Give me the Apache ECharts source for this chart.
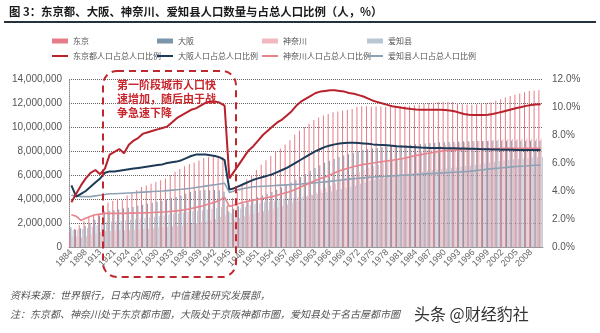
<!DOCTYPE html>
<html><head><meta charset="utf-8">
<script src="https://cdn.jsdelivr.net/npm/echarts@6/dist/echarts.min.js"></script>
<style>html,body{margin:0;padding:0;background:#fff}#c{width:600px;height:333px}</style>
</head><body><div id="c"></div>
<script>
var years = ['1884','1888','1893','1898','1903','1908','1913','1918','1920',
'1921','1922','1923','1924','1925','1926','1927','1928','1929','1930',
'1931','1932','1933','1934','1935','1936','1937','1938','1939','1940',
'1941','1942','1943','1944','1945','1946','1947','1948','1949','1950',
'1951','1952','1953','1954','1955','1956','1957','1958','1959','1960',
'1961','1962','1963','1964','1965','1966','1967','1968','1969','1970',
'1971','1972','1973','1974','1975','1976','1977','1978','1979','1980',
'1981','1982','1983','1984','1985','1986','1987','1988','1989','1990',
'1991','1992','1993','1994','1995','1996','1997','1998','1999','2000',
'2001','2002','2003','2004','2005','2006','2007','2008','2009','2010'];

// population, millions of people
var tokyoPop = [1.20,1.50,1.82,2.15,2.48,2.73,2.78,3.12,3.70,3.86,
4.02,3.89,4.30,4.54,4.73,5.00,5.13,5.27,5.42,5.57,
5.71,6.00,6.28,6.51,6.73,6.92,7.03,7.21,7.41,7.51,
7.58,7.61,7.51,3.53,4.09,4.61,5.12,5.64,5.99,6.42,
6.86,7.22,7.59,7.95,8.21,8.54,8.90,9.35,9.71,10.00,
10.28,10.58,10.79,10.96,11.09,11.22,11.29,11.38,11.41,11.51,
11.67,11.73,11.72,11.69,11.71,11.71,11.69,11.67,11.71,11.73,
11.75,11.77,11.81,11.86,11.93,11.99,12.03,12.08,12.09,12.10,
12.09,11.99,11.90,11.87,11.86,11.89,11.93,11.97,12.06,12.20,
12.32,12.45,12.58,12.69,12.79,12.90,12.99,13.03,13.07];
var osakaPop = [1.65,1.43,1.57,1.75,2.01,2.28,2.62,2.95,3.02,3.06,
3.13,3.20,3.27,3.34,3.43,3.52,3.60,3.68,3.77,3.86,
3.98,4.08,4.17,4.30,4.45,4.59,4.69,4.71,4.75,4.73,
4.74,4.73,4.61,2.96,3.18,3.40,3.60,3.80,3.99,4.14,
4.29,4.44,4.59,4.78,4.96,5.14,5.37,5.60,5.84,6.08,
6.33,6.59,6.80,7.03,7.18,7.34,7.50,7.62,7.73,7.83,
7.99,8.07,8.15,8.20,8.26,8.31,8.36,8.41,8.43,8.47,
8.50,8.53,8.57,8.59,8.63,8.66,8.68,8.72,8.73,8.76,
8.78,8.79,8.81,8.82,8.83,8.83,8.84,8.84,8.85,8.86,
8.86,8.86,8.87,8.86,8.86,8.86,8.86,8.86,8.86];
var kanagawaPop = [0.86,0.87,0.79,0.90,1.03,1.14,1.25,1.34,1.34,1.36,
1.38,1.39,1.43,1.44,1.47,1.51,1.53,1.56,1.60,1.64,
1.67,1.72,1.76,1.82,1.88,1.94,2.00,2.07,2.16,2.24,
2.33,2.48,2.64,2.09,2.27,2.42,2.56,2.68,2.79,2.87,
2.98,3.08,3.18,3.30,3.43,3.55,3.67,3.84,4.02,4.20,
4.38,4.57,4.76,4.92,5.10,5.31,5.52,5.69,5.86,6.04,
6.26,6.44,6.58,6.71,6.84,6.97,7.08,7.20,7.32,7.43,
7.57,7.72,7.87,7.99,8.11,8.22,8.33,8.42,8.50,8.56,
8.62,8.67,8.72,8.75,8.79,8.82,8.86,8.88,8.91,8.95,
8.98,9.00,9.01,9.01,9.02,9.02,9.03,9.02,9.03];
var aichiPop = [1.39,1.45,1.49,1.58,1.68,1.81,1.98,2.09,2.13,2.15,
2.19,2.23,2.27,2.32,2.37,2.42,2.47,2.51,2.57,2.62,
2.68,2.74,2.79,2.86,2.92,2.97,3.02,3.07,3.13,3.18,
3.24,3.33,3.39,2.81,3.03,3.20,3.34,3.47,3.58,3.65,
3.72,3.79,3.86,3.93,3.99,4.04,4.09,4.15,4.20,4.27,
4.34,4.42,4.49,4.57,4.64,4.74,4.83,4.93,5.03,5.13,
5.28,5.39,5.50,5.60,5.68,5.76,5.83,5.90,5.97,6.04,
6.10,6.17,6.23,6.29,6.35,6.41,6.46,6.51,6.55,6.60,
6.65,6.69,6.74,6.78,6.85,6.92,6.98,7.04,7.11,7.17,
7.22,7.27,7.31,7.35,7.38,7.41,7.46,7.48,7.51];

// share of national population, %
var tokyoShare = [3.2,3.8,4.4,4.9,5.3,5.5,5.2,5.6,6.6,6.8,
7.0,6.7,7.3,7.6,7.8,8.1,8.2,8.3,8.4,8.5,
8.6,8.9,9.2,9.4,9.6,9.8,9.9,10.1,10.3,10.4,
10.4,10.3,10.1,4.9,5.4,5.9,6.4,6.9,7.2,7.6,
8.0,8.3,8.6,8.9,9.1,9.4,9.7,10.1,10.4,10.6,
10.8,11.0,11.1,11.15,11.2,11.2,11.15,11.1,11.0,10.95,
10.85,10.75,10.6,10.45,10.35,10.25,10.15,10.05,10.0,9.95,
9.9,9.85,9.82,9.8,9.8,9.8,9.8,9.8,9.78,9.75,
9.7,9.6,9.5,9.45,9.42,9.42,9.43,9.45,9.5,9.58,
9.66,9.75,9.84,9.93,10.0,10.08,10.14,10.18,10.2];
var osakaShare = [4.4,3.6,3.8,4.0,4.3,4.6,4.9,5.3,5.4,5.4,
5.45,5.5,5.55,5.6,5.65,5.7,5.75,5.8,5.85,5.9,
6.0,6.05,6.1,6.2,6.35,6.5,6.6,6.6,6.6,6.55,
6.5,6.4,6.2,4.1,4.2,4.35,4.5,4.65,4.8,4.9,
5.0,5.1,5.2,5.35,5.5,5.65,5.85,6.05,6.25,6.45,
6.65,6.85,7.0,7.15,7.25,7.33,7.4,7.43,7.45,7.45,
7.43,7.4,7.37,7.33,7.3,7.28,7.26,7.24,7.2,7.18,
7.16,7.14,7.12,7.1,7.09,7.08,7.07,7.07,7.06,7.06,
7.05,7.04,7.03,7.02,7.01,7.0,6.99,6.98,6.97,6.96,
6.95,6.94,6.94,6.93,6.93,6.92,6.92,6.92,6.92];
var kanagawaShare = [2.3,2.2,1.9,2.05,2.2,2.3,2.35,2.4,2.4,2.4,
2.4,2.4,2.42,2.42,2.43,2.44,2.45,2.46,2.48,2.5,
2.52,2.55,2.58,2.62,2.68,2.75,2.82,2.9,3.0,3.1,
3.2,3.35,3.55,2.9,3.0,3.1,3.2,3.28,3.35,3.4,
3.47,3.54,3.6,3.7,3.8,3.9,4.0,4.15,4.3,4.45,
4.6,4.75,4.9,5.0,5.15,5.3,5.45,5.55,5.65,5.75,
5.82,5.9,5.95,6.0,6.05,6.1,6.15,6.2,6.25,6.3,
6.38,6.46,6.54,6.6,6.66,6.72,6.78,6.83,6.88,6.9,
6.92,6.94,6.96,6.97,6.98,6.99,7.0,7.01,7.02,7.03,
7.04,7.05,7.05,7.05,7.05,7.05,7.05,7.05,7.05];
var aichiShare = [3.7,3.65,3.6,3.6,3.6,3.65,3.7,3.75,3.8,3.8,
3.82,3.84,3.86,3.88,3.9,3.92,3.94,3.96,3.98,4.0,
4.03,4.06,4.09,4.12,4.16,4.2,4.25,4.3,4.35,4.4,
4.45,4.5,4.55,3.9,4.0,4.1,4.18,4.24,4.3,4.32,
4.34,4.36,4.38,4.4,4.42,4.44,4.46,4.48,4.5,4.53,
4.56,4.59,4.62,4.65,4.69,4.73,4.77,4.81,4.85,4.88,
4.91,4.94,4.97,5.0,5.02,5.04,5.06,5.08,5.1,5.12,
5.14,5.16,5.18,5.2,5.22,5.24,5.26,5.28,5.3,5.32,
5.34,5.36,5.38,5.4,5.44,5.48,5.52,5.56,5.6,5.63,
5.66,5.69,5.72,5.75,5.77,5.79,5.82,5.84,5.86];

var barNames = ['东京','大阪','神奈川','爱知县'];
var lineNames = ['东京都人口占总人口比例','大阪人口占总人口比例','神奈川人口占总人口比例','爱知县人口占总人口比例'];
var leftTicksMax = 14, leftTickStep = 2;   // millions
var rightTicksMax = 12, rightTickStep = 2; // percent

var FONT = '"Noto Sans CJK SC", "Noto Sans", sans-serif';
var barColors = ['#e57c87','#7b95aa','#f3b8bf','#b9c7d4'];
var lineColors = ['#b8222c','#1d3a57','#e8838d','#8ea2b3'];

var chart = echarts.init(document.getElementById('c'), null, {renderer:'canvas'});

var legendText = {fontSize: 8, color: '#555', fontFamily: FONT};
var legends = [];
for (var k = 0; k < 4; k++) {
  legends.push({
    orient: 'horizontal', left: 52 + k * 105, top: 37,
    itemWidth: 16, itemHeight: 5, itemGap: 0, padding: 0,
    textStyle: legendText,
    data: [{name: barNames[k], icon: 'rect'}]
  });
  legends.push({
    orient: 'horizontal', left: 52 + k * 105, top: 52,
    itemWidth: 16, itemHeight: 2, itemGap: 0, padding: 0,
    textStyle: legendText,
    data: [{name: lineNames[k], icon: 'rect'}]
  });
}

var pops = [tokyoPop, osakaPop, kanagawaPop, aichiPop];
var shares = [tokyoShare, osakaShare, kanagawaShare, aichiShare];
var series = [];
for (var b = 0; b < 4; b++) {
  series.push({
    name: barNames[b], type: 'bar', yAxisIndex: 0, data: pops[b],
    barWidth: 1, barGap: '15%',
    itemStyle: {color: barColors[b]}, animation: false
  });
}
var lineWidths = [2, 2, 1.6, 1.6];
for (var l = 3; l >= 0; l--) {
  series.push({
    name: lineNames[l], type: 'line', yAxisIndex: 1, data: shares[l],
    symbol: 'none', smooth: false,
    lineStyle: {color: lineColors[l], width: lineWidths[l]},
    itemStyle: {color: lineColors[l]}, z: 3, animation: false
  });
}

function fmtMillions(v) {
  return (v * 1000000).toLocaleString('en-US');
}

chart.setOption({
  animation: false,
  backgroundColor: '#fff',
  legend: legends,
  grid: {left: 69, right: 57, top: 79, bottom: 86, containLabel: false},
  xAxis: {
    type: 'category', data: years, boundaryGap: true,
    axisLine: {lineStyle: {color: '#999'}},
    axisTick: {show: false},
    axisLabel: {interval: 2, rotate: 45, fontSize: 9, color: '#666', margin: 4, fontFamily: 'Liberation Sans, Arial'}
  },
  yAxis: [{
    type: 'value', min: 0, max: leftTicksMax, interval: leftTickStep,
    axisLine: {show: true, lineStyle: {color: '#888', type: 'dotted'}},
    axisTick: {show: false},
    splitLine: {lineStyle: {color: '#666', type: 'dotted', width: 1}},
    axisLabel: {formatter: fmtMillions, fontSize: 10, color: '#555', margin: 7, fontFamily: 'Liberation Sans, Arial'}
  }, {
    type: 'value', min: 0, max: rightTicksMax, interval: rightTickStep,
    axisLine: {show: false}, axisTick: {show: false}, splitLine: {show: false},
    axisLabel: {formatter: function (v) { return v.toFixed(1) + '%'; }, fontSize: 10, color: '#555', margin: 9, fontFamily: 'Liberation Sans, Arial'}
  }],
  series: series,
  graphic: [
    {type: 'text', left: 9, top: 6, style: {text: '图 3：东京都、大阪、神奈川、爱知县人口数量与占总人口比例（人，%）', font: 'bold 11.4px ' + FONT, fill: '#1a1a1a'}},
    {type: 'line', shape: {x1: 4, y1: 22, x2: 596, y2: 22}, style: {stroke: '#25323c', lineWidth: 2}},
    {type: 'rect', z: 100, shape: {x: 103, y: 71, width: 133, height: 206, r: 14},
     style: {fill: 'none', stroke: '#c0272e', lineWidth: 2, lineDash: [7, 5]}},
    {type: 'text', z: 101, left: 117, top: 78, style: {text: '第一阶段城市人口快\n速增加，随后由于战\n争急速下降', font: 'bold 11px ' + FONT, fill: '#c8262c', lineHeight: 14}},
    {type: 'text', left: 10, top: 290, style: {text: '资料来源：世界银行，日本内阁府，中信建投研究发展部，', font: 'italic 10px ' + FONT, fill: '#555'}},
    {type: 'text', left: 10, top: 309, style: {text: '注：东京都、神奈川处于东京都市圈，大阪处于京阪神都市圈，爱知县处于名古屋都市圈', font: 'italic 10px ' + FONT, fill: '#555'}},
    {type: 'text', left: 414, top: 306, style: {text: '头条 @财经豹社', font: '16px ' + FONT, fill: '#333'}}
  ]
});
</script>
</body></html>
